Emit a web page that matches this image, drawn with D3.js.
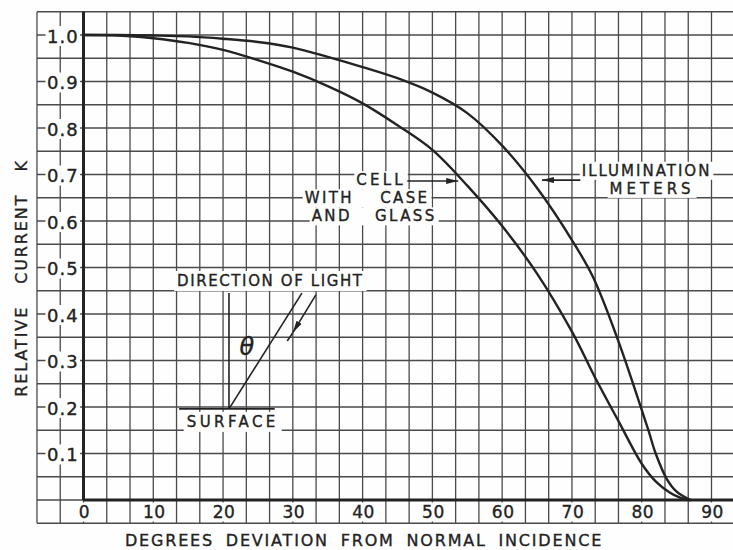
<!DOCTYPE html>
<html><head><meta charset="utf-8">
<script src="https://cdn.jsdelivr.net/npm/d3@7"></script>
<style>
body{margin:0;background:#fff}
svg{display:block}
text{font-family:"DejaVu Sans",sans-serif;fill:#222;stroke:#222;stroke-width:0.35}
</style>
</head><body>
<svg id="c" width="733" height="550"></svg>
<script>
// ---- data ----
const illumDeg = [0,5,10,15,20,25,30,35,40,45,50,55,60,65,70,73,76.6,80,81,82,83.6,85,87];
const illumK   = [1.0,1.0,0.999,0.997,0.992,0.985,0.973,0.953,0.931,0.907,0.876,0.832,0.762,0.671,0.559,0.48,0.344,0.194,0.148,0.10,0.045,0.018,0.0];
const cellDeg  = [0,5,10,15,20,25,30,35,40,45,50,55,60,65,70,73.5,76.8,80,82,84,85.5,87];
const cellK    = [1.0,0.999,0.993,0.983,0.968,0.946,0.921,0.89,0.853,0.806,0.753,0.676,0.589,0.487,0.362,0.258,0.166,0.078,0.04,0.016,0.005,0.0];
const xTickValues = [0,10,20,30,40,50,60,70,80,90];
const yTickValues = [1.0,0.9,0.8,0.7,0.6,0.5,0.4,0.3,0.2,0.1];
const yTickLabels = ["1.0","0.9","0.8","0.7","0.6","0.5","0.4","0.3","0.2","0.1"];
const xTitle = "DEGREES DEVIATION FROM NORMAL INCIDENCE";
const yTitle = "RELATIVE CURRENT K";

const svg = d3.select("#c");
const x = d3.scaleLinear().domain([0,90]).range([83.5,711.5]);
const y = d3.scaleLinear().domain([0,1]).range([500,35]);
const ink = "#232323", gridInk = "#4a4a4a", paper = "#fefefe";

svg.append("rect").attr("width",733).attr("height",550).attr("fill",paper);

// grid: 3 cells per 10 degrees, 2 cells per 0.1
const gx = d3.range(-2,31).map(i=>i*10/3).filter(d=>x(d)<=735);
const gy = d3.range(-1,22).map(i=>i*0.05);
const x0 = x(-20/3), x1 = 733, y0 = y(1.05), y1 = y(-0.05);
const grid = svg.append("g").attr("stroke",gridInk).attr("stroke-width",1.3);
grid.selectAll("line.v").data(gx).join("line").attr("class","v")
  .attr("x1",d=>x(d)).attr("x2",d=>x(d)).attr("y1",y0).attr("y2",y1);
grid.selectAll("line.h").data(gy).join("line").attr("class","h")
  .attr("x1",x0).attr("x2",x1).attr("y1",d=>y(d)).attr("y2",d=>y(d));

// main axes (thick)
svg.append("line").attr("x1",x(0)).attr("x2",x(0)).attr("y1",y0).attr("y2",y(0))
  .attr("stroke",ink).attr("stroke-width",3);
svg.append("line").attr("x1",x(0)).attr("x2",x1).attr("y1",y(0)).attr("y2",y(0))
  .attr("stroke",ink).attr("stroke-width",3);

const knock = svg.append("g");
const texts = svg.append("g");
function label(t, px, py, opts={}){
  const el = texts.append("text").attr("x",px).attr("y",py).text(t)
    .attr("font-size",opts.size||15).attr("dominant-baseline","central")
    .attr("text-anchor",opts.anchor||"start")
    .attr("letter-spacing",opts.ls||0).attr("word-spacing",opts.ws||0);
  if(opts.style) el.attr("font-style",opts.style);
  if(!opts.noKnock){
    const b = el.node().getBBox();
    const p = opts.pad||2;
    knock.append("rect").attr("x",b.x-p).attr("y",b.y+2-p).attr("width",b.width+2*p)
      .attr("height",b.height-4+2*p).attr("fill",paper);
  }
  return el;
}

// y tick labels
yTickValues.forEach((v,i)=>{
  label(yTickLabels[i], 47, y(v)+1, {size:18, ls:1, pad:1.5});
});
// x tick labels
xTickValues.forEach(v=>{
  label(String(v), x(v)+1, 512, {size:17, anchor:"middle", ls:0.5, pad:1.5});
});

// axis titles
texts.append("text").attr("x",125).attr("y",546).attr("font-size",16)
  .attr("letter-spacing",1.8).attr("word-spacing",5).text(xTitle);
texts.append("text").attr("transform","translate(27,278) rotate(-90)").attr("text-anchor","middle")
  .attr("font-size",16).attr("letter-spacing",1.9).attr("word-spacing",15).text(yTitle);

// annotation texts (positions in data units)
label("CELL", x(39.1), y(0.688), {ls:3.2});
label("WITH CASE", x(31.7), y(0.649), {ls:2.4, ws:19});
label("AND GLASS", x(32.7), y(0.610), {ls:2.4, ws:16});
label("ILLUMINATION", x(71.4), y(0.708), {ls:2.0});
label("METERS", x(75.4), y(0.669), {ls:4.0});
label("DIRECTION OF LIGHT", x(13.4), y(0.471), {ls:1.6, pad:3});
label("SURFACE", x(14.8), y(0.168), {ls:3.4, pad:3});
label("\u03b8", x(23.4), y(0.329), {size:24, anchor:"middle", style:"italic", noKnock:true});

// curves
const line = d3.line().x(d=>x(d[0])).y(d=>y(d[1])).curve(d3.curveCatmullRom.alpha(0.5));
const curves = svg.append("g").attr("fill","none").attr("stroke",ink).attr("stroke-width",2.4)
  .attr("stroke-linecap","round");
curves.append("path").attr("d", line(d3.zip(illumDeg, illumK)));
curves.append("path").attr("d", line(d3.zip(cellDeg, cellK)));

// arrow marker
const defs = svg.append("defs");
defs.append("marker").attr("id","ah").attr("viewBox","0 0 12 6").attr("refX",12).attr("refY",3)
  .attr("markerWidth",12).attr("markerHeight",6).attr("markerUnits","userSpaceOnUse")
  .attr("orient","auto").append("path").attr("d","M0,0L12,3L0,6Z").attr("fill",ink);

const ann = svg.append("g").attr("stroke",ink).attr("stroke-width",1.6).attr("fill","none");
// leaders
ann.append("line").attr("x1",x(46.4)).attr("y1",y(0.686)).attr("x2",x(53.7)).attr("y2",y(0.686))
  .attr("marker-end","url(#ah)");
ann.append("line").attr("x1",x(71.2)).attr("y1",y(0.688)).attr("x2",x(65.7)).attr("y2",y(0.688))
  .attr("marker-end","url(#ah)");
// inset diagram
ann.append("line").attr("x1",x(20.85)).attr("y1",y(0.196)).attr("x2",x(20.85)).attr("y2",y(0.445));
ann.append("line").attr("x1",x(13.7)).attr("y1",y(0.196)).attr("x2",x(27.4)).attr("y2",y(0.196));
ann.append("line").attr("x1",x(20.85)).attr("y1",y(0.196)).attr("x2",x(31.3)).attr("y2",y(0.445));
ann.append("line").attr("x1",x(33.3)).attr("y1",y(0.441)).attr("x2",x(30.0)).attr("y2",y(0.360))
  .attr("marker-end","url(#ah)");
ann.append("line").attr("x1",x(30.0)).attr("y1",y(0.360)).attr("x2",x(29.2)).attr("y2",y(0.342));
</script>
</body></html>
